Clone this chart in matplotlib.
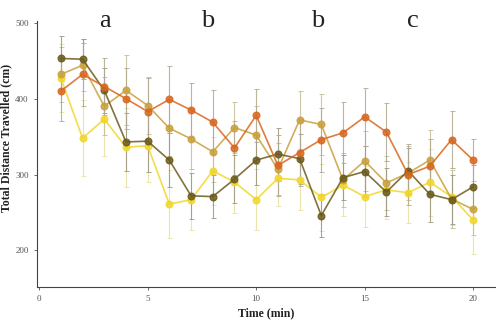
import numpy as np
import matplotlib
matplotlib.use("Agg")
import matplotlib.pyplot as plt

plt.rcParams['font.family'] = ['Liberation Serif', 'DejaVu Serif']

minutes = np.arange(1, 21)

# mean distance per minute for each group
dark = [453, 452, 411, 343, 344, 319, 272, 271, 294, 319, 327, 321, 246, 296, 304, 277, 305, 274, 267, 284]
orange = [410, 432, 416, 400, 383, 399, 385, 369, 335, 378, 312, 329, 346, 355, 376, 356, 300, 311, 346, 319]
tan = [432, 444, 390, 411, 391, 361, 347, 330, 362, 352, 307, 372, 366, 293, 318, 289, 302, 319, 268, 254]
yellow = [427, 348, 373, 336, 338, 261, 267, 305, 290, 267, 295, 293, 270, 286, 271, 280, 276, 290, 271, 240]

# standard errors
dark_err = [30, 26, 30, 38, 40, 36, 30, 28, 32, 33, 35, 33, 28, 30, 33, 32, 30, 36, 32, 28]
orange_err = [40, 42, 38, 40, 44, 44, 35, 42, 36, 35, 40, 44, 42, 40, 38, 38, 40, 36, 38, 28]
tan_err = [36, 34, 38, 46, 38, 36, 40, 40, 34, 38, 34, 38, 40, 36, 40, 36, 36, 40, 38, 34]
yellow_err = [45, 50, 48, 52, 48, 45, 40, 45, 40, 40, 36, 40, 44, 40, 40, 38, 40, 44, 38, 44]

series = [
    (yellow, yellow_err, '#F2D62A', '#E8E0A0'),
    (tan, tan_err, '#C9A03C', '#C4BC98'),
    (dark, dark_err, '#6B5A1C', '#9A9680'),
    (orange, orange_err, '#D8661E', '#B0A890'),
]

letters = ['a', 'b', 'b', 'c']
letter_x = [3.05, 7.75, 12.85, 17.2]

fig = plt.figure(figsize=(4.96, 3.22), dpi=100)
ax = fig.add_axes([0.075, 0.109, 0.925, 0.825])

for vals, errs, col, ecol in series:
    ax.errorbar(minutes, vals, yerr=errs, color=col, ecolor=ecol, elinewidth=0.8,
                capsize=1.8, capthick=0.7, lw=1.2, marker='o', ms=4.8,
                alpha=0.85, zorder=3)

for lab, lx in zip(letters, letter_x):
    ax.text(lx, 495, lab, fontsize=19, ha='center', va='baseline',
            color='#222222', clip_on=False)

ax.set_xlim(-0.09, 21.05)
ax.set_ylim(152, 502)
ax.set_xticks([0, 5, 10, 15, 20])
ax.set_yticks([200, 300, 400, 500])
ax.tick_params(labelsize=6.5, colors='#555555', length=2.5, width=0.6)
for s in ['top', 'right']:
    ax.spines[s].set_visible(False)
for s in ['left', 'bottom']:
    ax.spines[s].set_color('#444444')
    ax.spines[s].set_linewidth(0.8)

ax.set_xlabel('Time (min)', fontsize=8.5, fontweight='bold', color='#222222')
ax.xaxis.set_label_coords(0.5, -0.075)
ax.set_ylabel('Total Distance Travelled (cm)', fontsize=8.5, fontweight='bold',
              color='#222222')
ax.yaxis.set_label_coords(-0.055, 0.56)

fig.savefig('out.png', dpi=100)
